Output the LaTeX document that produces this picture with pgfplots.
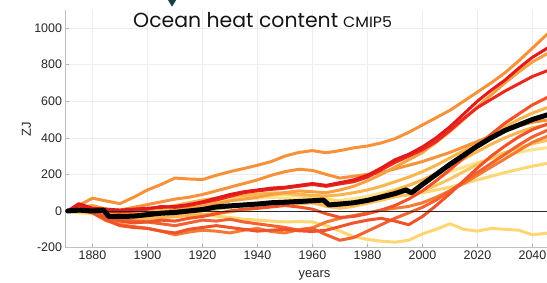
\documentclass[border=0pt]{standalone}
\usepackage{fontspec}
\setmainfont{Liberation Sans}
\newfontfamily\titlefont{Poppins}
\usepackage{graphicx}
\usepackage{pgfplots}
\usepackage{pgfplotstable}
\pgfplotsset{compat=1.18}
\definecolor{cRed}{HTML}{E31A1C}
\definecolor{cRedB}{HTML}{E82A1E}
\definecolor{cRO}{HTML}{F0522A}
\definecolor{cRO2}{HTML}{F26331}
\definecolor{cDOr}{HTML}{F57A33}
\definecolor{cOr}{HTML}{F7923A}
\definecolor{cOr2}{HTML}{F9A042}
\definecolor{cLOr}{HTML}{FBB44E}
\definecolor{cLOr2}{HTML}{FCC35F}
\definecolor{cYel}{HTML}{FED773}
\definecolor{cYel2}{HTML}{FFE28C}
\definecolor{triC}{HTML}{1B3F47}

\pgfplotstableread{
year S1 S2 S3 S4 S5 S6 S7 S8 S9 S10 S11 S12 S13 S14 S15
1871 0 0 0 0 0 0 0 0 0 0 0 0 0 0 0
1875 30 40 30 20 5 10 -5 5 0 -5 -5 10 5 -10 0
1880 70 15 5 30 25 0 5 -5 -10 0 -10 -10 0 -15 -10
1885 55 10 0 10 10 -35 -10 -30 -55 -20 -30 -50 -45 -20 -30
1890 40 5 -5 -10 5 -55 -20 -45 -65 -30 -40 -80 -75 -15 -45
1895 75 10 0 -15 20 -65 -10 -55 -55 -20 -50 -90 -85 -5 -50
1900 115 15 10 -10 35 -60 5 -60 -45 -10 -50 -95 -95 0 -40
1905 145 20 25 -5 50 -50 15 -70 -35 0 -35 -110 -110 10 -35
1910 180 25 20 5 65 -55 30 -80 -20 12 -30 -120 -130 20 -30
1915 175 35 30 15 75 -40 45 -65 -10 25 -20 -100 -115 30 -25
1920 172 50 45 25 90 -30 60 -50 0 40 -20 -90 -105 40 -20
1925 195 70 60 40 110 -15 70 -55 10 52 -28 -80 -110 52 -12
1930 215 90 80 55 130 0 78 -45 20 60 -35 -90 -120 58 -5
1935 232 105 100 65 150 10 85 -60 30 70 -45 -100 -105 64 5
1940 250 115 110 75 170 15 92 -70 38 78 -50 -110 -95 70 15
1945 270 125 118 90 195 22 98 -80 45 88 -55 -105 -112 75 25
1950 300 130 125 100 215 30 100 -90 52 90 -60 -100 -120 70 35
1955 320 140 135 110 228 22 92 -105 58 82 -58 -108 -102 62 40
1960 330 150 145 105 222 10 85 -95 45 72 -60 -112 -92 55 45
1965 318 140 135 100 200 -15 82 -130 25 68 -80 -105 -60 50 35
1970 330 155 148 115 180 -35 88 -160 15 52 -110 -85 -40 58 30
1975 345 170 160 135 190 -30 100 -145 25 42 -140 -65 -25 68 45
1980 355 195 185 165 200 -15 115 -110 42 48 -155 -50 -10 80 62
1985 372 235 225 200 210 5 135 -75 60 60 -165 -40 5 98 85
1990 395 280 265 240 230 30 160 -40 78 78 -170 -55 15 118 112
1995 430 310 300 280 250 65 185 -10 90 90 -160 -75 25 140 140
2000 470 350 335 320 270 110 215 20 110 100 -125 -30 45 165 170
2005 510 400 380 375 295 165 250 60 140 115 -100 30 75 190 205
2010 550 460 440 435 320 225 290 110 175 130 -70 95 110 215 245
2015 600 530 505 500 350 290 330 160 215 150 -100 165 150 240 285
2020 650 600 565 570 380 355 370 210 255 170 -110 235 195 265 325
2025 700 660 610 635 410 420 415 260 290 190 -95 300 240 285 365
2030 755 715 655 700 440 480 460 310 320 210 -100 355 285 305 400
2035 820 780 695 760 465 530 500 360 345 228 -105 405 330 320 430
2040 890 840 735 815 485 580 535 405 368 245 -130 445 375 335 455
2046 975 895 770 865 498 625 568 445 388 262 -120 478 412 347 472
}\models

\pgfplotstableread{
year M
1871 0
1875 5
1880 0
1884 5
1886 -30
1890 -30
1895 -28
1900 -20
1905 -12
1910 -8
1915 0
1920 8
1925 22
1930 28
1935 33
1940 38
1945 45
1950 48
1955 52
1960 56
1964 60
1966 33
1970 38
1975 45
1980 58
1985 76
1990 95
1994 115
1996 100
2000 145
2005 200
2010 255
2015 305
2020 355
2025 400
2030 440
2035 470
2040 500
2046 528
}\meanT

\begin{document}
\begin{tikzpicture}
\begin{axis}[
  scale only axis, width=481.5bp, height=237.9bp,
  xmin=1870.2, xmax=2045.3, ymin=-200, ymax=1100,
  axis x line*=bottom, axis y line*=left,
  x axis line style={-}, y axis line style={-},
  xtick={1880,1900,...,2040}, ytick={-200,0,...,1000},
  tick align=inside, major tick length=4bp,
  axis line style={draw=black!25, line width=0.8pt},
  tick style={draw=black!30, line width=0.6pt},
  grid=major, major grid style={draw=black!7, line width=0.6pt},
  ticklabel style={font=\fontsize{12.5}{14}\selectfont, text=black!85},
  /pgf/number format/assume math mode=true,
  /pgf/number format/1000 sep={},
  every axis plot/.append style={line join=round, line cap=round, line width=3bp},
]
\addplot[cYel] table[x=year,y=S11]{\models};
\addplot[cYel2] table[x=year,y=S14]{\models};
\addplot[cYel] table[x=year,y=S10]{\models};
\addplot[cLOr2] table[x=year,y=S9]{\models};
\addplot[cLOr] table[x=year,y=S15]{\models};
\addplot[cLOr] table[x=year,y=S7]{\models};
\addplot[cDOr] table[x=year,y=S13]{\models};
\addplot[cOr] table[x=year,y=S5]{\models};
\addplot[cOr] table[x=year,y=S1]{\models};
\addplot[cRO2] table[x=year,y=S8]{\models};
\addplot[cRO] table[x=year,y=S12]{\models};
\addplot[cRO] table[x=year,y=S6]{\models};
\addplot[cOr2] table[x=year,y=S4]{\models};
\addplot[cRedB] table[x=year,y=S3]{\models};
\addplot[cRed] table[x=year,y=S2]{\models};
\addplot[black!85, line width=0.9bp] coordinates {(1868,0) (2050,0)};
\addplot[black, line width=5bp] table[x=year,y=M]{\meanT};
\end{axis}
\node[rotate=90, anchor=center, font=\fontsize{13}{14}\selectfont, text=black!85] at (-39bp,118bp) {ZJ};
\node[anchor=base, font=\fontsize{13}{14}\selectfont, text=black!85] at (249bp,-29.9bp) {years};
\node[anchor=base west, inner sep=0pt, text=black!92] at (67.5bp,220.3bp) {\titlefont\fontsize{20.5}{21}\selectfont Ocean heat content};
\node[anchor=base west, inner sep=0pt, text=black!92] at (277.5bp,220.3bp) {\scalebox{1.06}[1]{\titlefont\fontsize{15}{16}\selectfont CMIP5}};
\fill[triC] (100.7bp,250.6bp) -- (112.5bp,250.6bp) -- (106.5bp,240.9bp) -- cycle;
\pgfresetboundingbox
\path[use as bounding box] (-65.5bp,-35.4bp) rectangle (481.5bp,247.6bp);
\end{tikzpicture}
\end{document}
